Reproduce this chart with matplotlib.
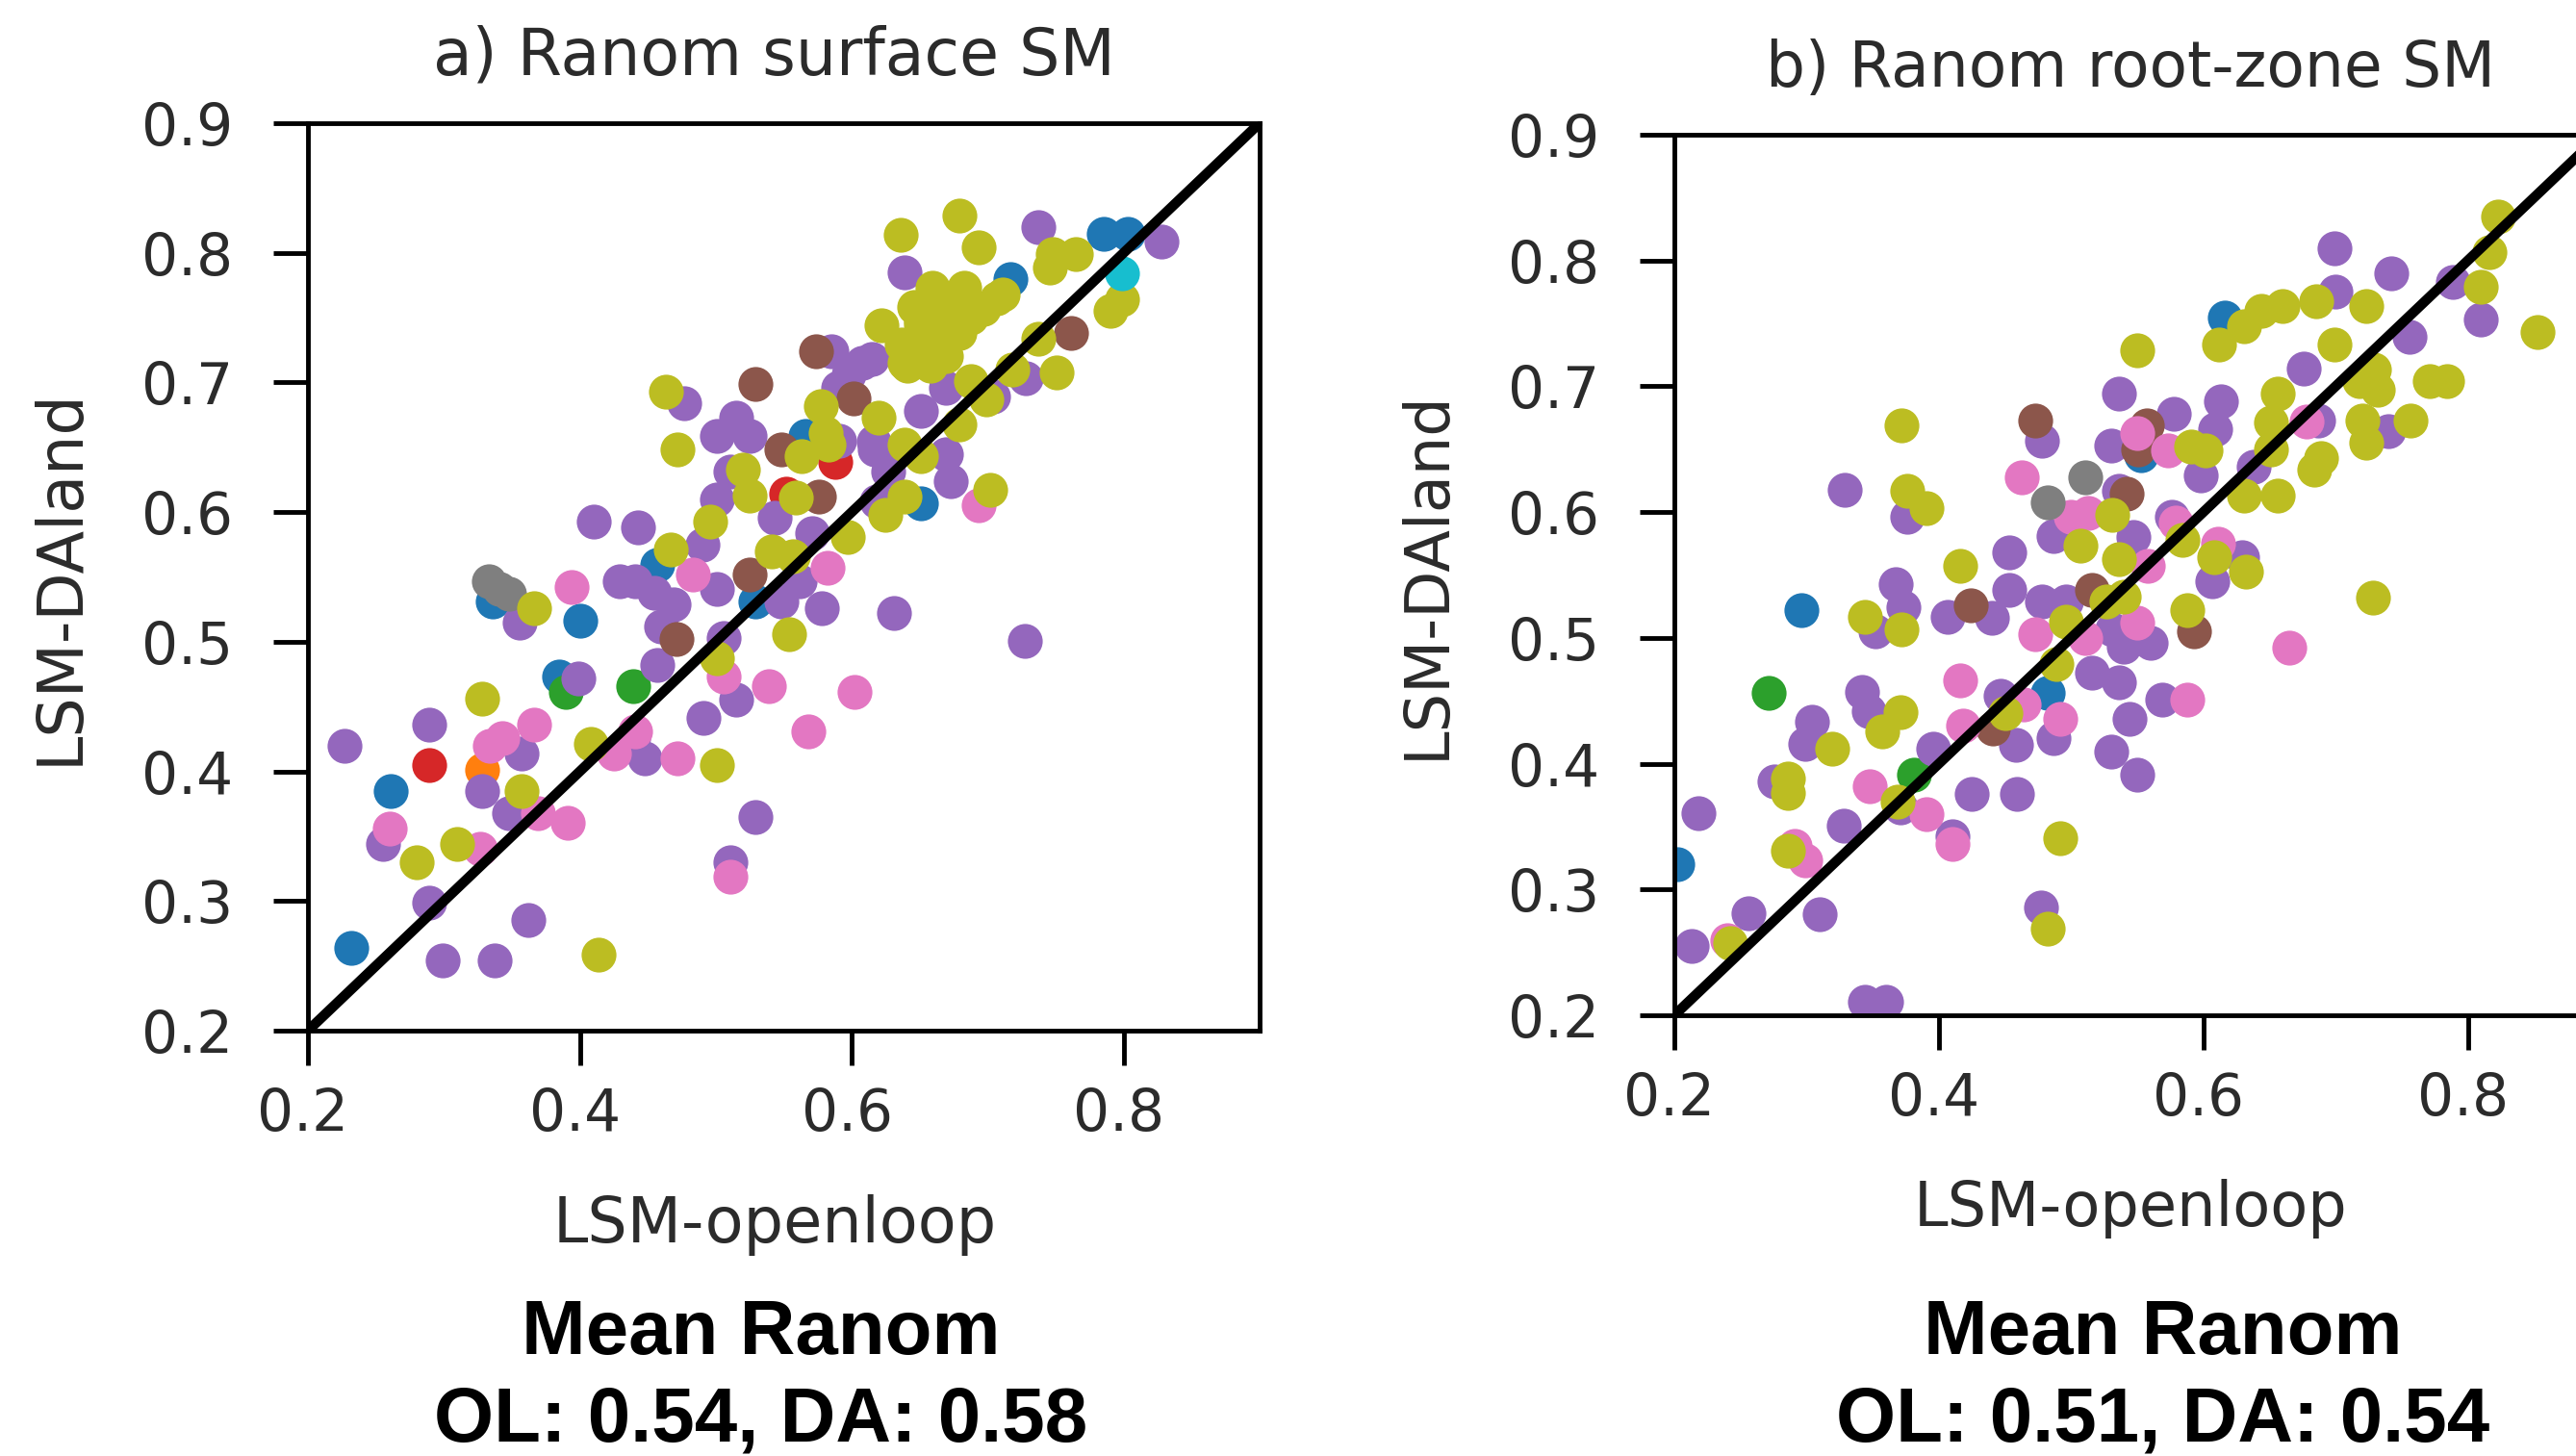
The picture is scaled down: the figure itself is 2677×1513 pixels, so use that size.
# Ranom scatter, LSM-openloop vs LSM-DAland, surface and root-zone panels
import matplotlib
matplotlib.use('Agg')
import matplotlib.pyplot as plt
from matplotlib.transforms import ScaledTranslation

# panel a, surface SM
a_blue = [(.232,.264),(.261,.385),(.336,.531),(.400,.516),(.385,.473),(.457,.559),(.529,.531),(.651,.607),(.566,.659),(.717,.780),(.785,.815),(.803,.815)]
a_orange = [(.328,.401)]
a_green = [(.390,.461),(.439,.466)]
a_red = [(.289,.405),(.588,.639),(.552,.614)]
a_purple = [(.227,.420),(.289,.436),(.357,.414),(.328,.385),(.348,.368),(.255,.344),(.289,.299),(.362,.285),(.299,.254),(.337,.254),
            (.529,.365),(.511,.330),(.515,.455),(.491,.441),(.448,.410),(.439,.426),(.457,.482),(.399,.472),(.356,.515),(.410,.593),
            (.443,.588),(.429,.547),(.441,.547),(.455,.538),(.469,.529),(.460,.512),(.501,.541),(.506,.503),(.548,.531),(.562,.547),
            (.578,.526),(.631,.522),(.727,.501),(.490,.575),(.501,.610),(.543,.596),(.571,.584),(.511,.631),(.501,.659),(.515,.673),
            (.525,.659),(.477,.684),(.639,.785),(.737,.820),(.828,.809),(.585,.724),(.608,.715),(.590,.696),(.616,.654),(.651,.678),
            (.669,.696),(.704,.689),(.728,.703),(.672,.757),(.669,.645),(.673,.624),(.618,.608),(.627,.631),(.591,.655),(.617,.648),
            (.598,.706),(.615,.718)]
a_brown = [(.574,.724),(.529,.699),(.601,.688),(.548,.648),(.576,.612),(.525,.552),(.471,.502),(.761,.738)]
a_pink = [(.394,.542),(.483,.552),(.582,.557),(.693,.605),(.366,.436),(.343,.426),(.334,.420),(.441,.431),(.425,.414),(.472,.410),
          (.506,.473),(.539,.466),(.602,.461),(.568,.431),(.260,.356),(.391,.360),(.369,.368),(.327,.340),(.511,.319)]
a_gray = [(.333,.547),(.341,.541),(.348,.537)]
a_olive = [(.328,.456),(.366,.526),(.467,.571),(.496,.593),(.463,.693),(.472,.648),(.520,.633),(.525,.613),(.559,.611),(.563,.643),
           (.577,.682),(.581,.661),(.583,.652),(.541,.570),(.557,.566),(.597,.581),(.554,.506),(.501,.405),(.501,.487),(.408,.421),
           (.357,.385),(.310,.344),(.280,.330),(.414,.259),(.702,.617),(.625,.598),(.639,.612),(.651,.643),(.639,.652),(.620,.673),
           (.679,.668),(.688,.701),(.699,.687),(.718,.710),(.751,.708),(.737,.734),(.636,.814),(.679,.829),(.693,.804),(.746,.789),
           (.765,.799),(.748,.799),(.790,.755),(.799,.764),(.622,.744),(.659,.773),(.683,.773),(.711,.768),(.697,.757),(.679,.745),
           (.651,.748),(.637,.729),(.665,.729),(.679,.738),(.639,.715),(.655,.715),(.669,.720),
           (.655,.728),(.641,.713),(.658,.713),(.651,.745),(.669,.740),(.688,.750),(.667,.760),(.707,.765),(.683,.765),(.646,.758)]
a_cyan = [(.799,.784)]

# panel b, root-zone SM
b_blue = [(.616,.755),(.296,.522),(.202,.320),(.482,.456),(.553,.645)]
b_orange = []
b_green = [(.271,.456),(.381,.391)]
b_red = []
b_purple = [(.699,.810),(.742,.790),(.700,.775),(.789,.783),(.810,.753),(.756,.739),(.676,.714),(.613,.688),(.578,.678),(.536,.694),
            (.609,.666),(.687,.673),(.740,.664),(.478,.657),(.530,.653),(.638,.636),(.598,.629),(.536,.617),(.329,.618),(.376,.596),
            (.487,.581),(.547,.580),(.576,.596),(.453,.568),(.367,.543),(.373,.524),(.352,.505),(.407,.517),(.440,.516),(.453,.538),
            (.478,.529),(.496,.529),(.629,.564),(.607,.545),(.531,.507),(.540,.493),(.560,.496),(.516,.472),(.536,.465),(.569,.451),
            (.544,.436),(.342,.457),(.347,.442),(.304,.433),(.299,.416),(.276,.386),(.396,.412),(.458,.415),(.487,.420),(.530,.410),
            (.550,.391),(.425,.376),(.459,.376),(.371,.365),(.328,.351),(.218,.361),(.310,.280),(.256,.281),(.213,.255),(.477,.286),
            (.344,.211),(.360,.211),(.447,.454),(.410,.342)]
b_brown = [(.473,.673),(.424,.526),(.516,.538),(.542,.615),(.551,.650),(.557,.669),(.593,.505),(.441,.428)]
b_pink = [(.463,.628),(.550,.663),(.573,.649),(.500,.596),(.513,.599),(.579,.592),(.611,.575),(.558,.557),(.550,.512),(.473,.503),
          (.511,.500),(.665,.492),(.588,.451),(.416,.466),(.464,.447),(.492,.436),(.418,.430),(.348,.382),(.391,.360),(.410,.336),
          (.291,.335),(.299,.323),(.240,.260),(.678,.672)]
b_gray = [(.511,.628),(.482,.608)]
b_olive = [(.823,.835),(.816,.807),(.810,.779),(.853,.743),(.685,.768),(.660,.764),(.644,.760),(.631,.748),(.612,.733),(.723,.764),
           (.699,.733),(.550,.729),(.656,.694),(.651,.671),(.651,.650),(.729,.713),(.718,.704),(.732,.697),(.771,.704),(.784,.704),
           (.720,.673),(.757,.673),(.723,.655),(.689,.643),(.684,.634),(.656,.613),(.631,.613),(.602,.649),(.591,.652),(.531,.598),
           (.584,.578),(.608,.564),(.632,.553),(.507,.573),(.536,.563),(.540,.533),(.527,.529),(.588,.522),(.496,.513),(.728,.532),
           (.372,.669),(.376,.617),(.391,.603),(.416,.557),(.344,.517),(.372,.507),(.489,.479),(.450,.440),(.371,.441),(.357,.426),
           (.319,.412),(.286,.388),(.286,.377),(.369,.370),(.286,.331),(.492,.341),(.482,.269),(.242,.257)]
b_cyan = []

ticks_x = [0.2, 0.4, 0.6, 0.8]
ticks_y = [0.2, 0.3, 0.4, 0.5, 0.6, 0.7, 0.8, 0.9]
one_to_one = [0.2, 0.9]
W, H = 2677, 1513


def panel(box, groups, title, title_size, label_size, title_x, xlabel_x):
    l, t, r, b = box
    ax = fig.add_axes([l / W, 1 - b / H, (r - l) / W, (b - t) / H])
    for col, pts in groups:
        if pts:  # some colours only show up in panel a
            ax.scatter([p[0] for p in pts], [p[1] for p in pts], s=680, color=col, lw=0)
    ax.plot(one_to_one, one_to_one, color='black', lw=7.5)
    ax.set_xlim(0.2, 0.9)
    ax.set_ylim(0.2, 0.9)
    ax.set_xticks(ticks_x)
    ax.set_yticks(ticks_y)
    # long ticks, the original is a small default figure blown up
    ax.tick_params(labelsize=43, width=3.5, length=26, labelcolor='#2b2b2b')
    ax.tick_params(axis='x', pad=16)
    ax.tick_params(axis='y', pad=30)
    for lab in ax.get_xticklabels():  # x labels sit a little left of their ticks
        lab.set_transform(lab.get_transform() + ScaledTranslation(-3.6 / 72, 0, fig.dpi_scale_trans))
    for s in ax.spines.values():
        s.set_linewidth(3.5)
    ax.set_xlabel('LSM-openloop', fontsize=label_size, labelpad=38, color='#2b2b2b', x=xlabel_x)
    ax.set_ylabel('LSM-DAland', fontsize=label_size, labelpad=38, color='#2b2b2b')
    ax.set_title(title, fontsize=title_size, pad=36, color='#2b2b2b', x=title_x)
    return ax


fig = plt.figure(figsize=(W / 100, H / 100), dpi=100)

panel((320, 128, 1309, 1071),
      [('tab:blue', a_blue), ('tab:orange', a_orange), ('tab:green', a_green), ('tab:red', a_red),
       ('tab:purple', a_purple), ('tab:brown', a_brown), ('tab:pink', a_pink), ('tab:gray', a_gray),
       ('tab:olive', a_olive), ('tab:cyan', a_cyan)],
      'a) Ranom surface SM', 48, 47, 0.49, 0.491)
panel((1740, 140, 2702, 1055),
      [('tab:blue', b_blue), ('tab:orange', b_orange), ('tab:green', b_green), ('tab:red', b_red),
       ('tab:purple', b_purple), ('tab:brown', b_brown), ('tab:pink', b_pink), ('tab:gray', b_gray),
       ('tab:olive', b_olive), ('tab:cyan', b_cyan)],
      'b) Ranom root-zone SM', 46.5, 46, 0.493, 0.493)

# captions under the panels
for cx, txt in [(791, 'Mean Ranom\nOL: 0.54, DA: 0.58'), (2248, 'Mean Ranom\nOL: 0.51, DA: 0.54')]:
    fig.text(cx / W, 1 - 1349 / H, txt, ha='center', va='top', fontsize=57.5, fontweight='bold',
             family='Liberation Sans', linespacing=1.27)

plt.savefig('out.png', dpi=100)
